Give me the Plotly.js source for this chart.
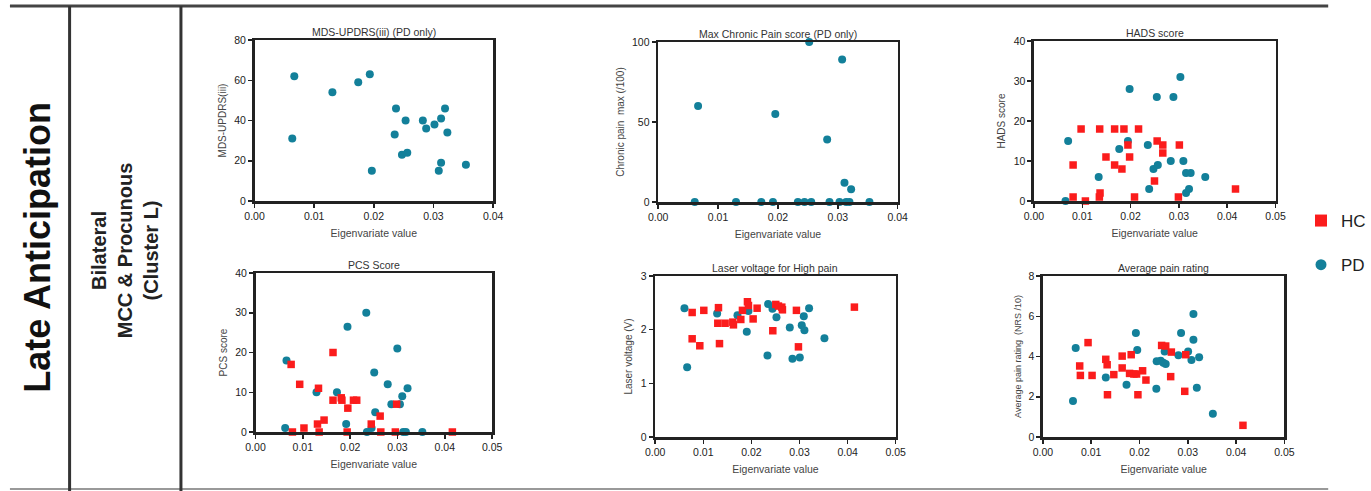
<!DOCTYPE html>
<html><head><meta charset="utf-8">
<script src="https://cdn.plot.ly/plotly-3.0.1.min.js"></script>
<style>html,body{margin:0;padding:0;background:#fff}#chart{width:1371px;height:491px}</style>
</head><body><div id="chart"></div>
<script>
// ---- Data (eigenvariate value vs measure) ----
// Panel 1: MDS-UPDRS(iii) (PD only)
const updrsPD_x = [0.00667,0.00633,0.01306,0.01739,0.01933,0.01967,0.02372,0.0235,0.02533,0.02472,0.02561,0.02822,0.02878,0.03017,0.03128,0.03194,0.03233,0.03128,0.03089,0.03544];
const updrsPD_y = [62,31,54,59,63,15,46,33,40,23,24,40,36,38,41,46,34,19,15,18];
// Panel 2: Max chronic pain (PD only)
const painMaxPD_x = [0.00667,0.00611,0.013,0.01722,0.01917,0.01956,0.02333,0.02444,0.02522,0.02556,0.02822,0.02861,0.03028,0.03072,0.03111,0.03139,0.03194,0.03222,0.03528];
const painMaxPD_y = [60,0,0,0,0,55,0,0,100,0,39,0,0,89,12,0,0,8,0];
// Panel 3: HADS score
const hadsPD_x = [0.00708,0.00653,0.0134,0.01766,0.01945,0.0198,0.02357,0.02385,0.02474,0.02564,0.02543,0.02832,0.02887,0.03031,0.03093,0.03148,0.03244,0.03148,0.0321,0.03546];
const hadsPD_y = [15,0,6,13,15,28,14,3,8,9,26,10,26,31,10,7,7,2,3,6];
const hadsHC_x = [0.00811,0.00811,0.00976,0.01065,0.01361,0.01368,0.01354,0.01491,0.0167,0.0167,0.01821,0.01863,0.01945,0.0198,0.02082,0.02165,0.02495,0.0255,0.02667,0.02667,0.0301,0.0299,0.04172];
const hadsHC_y = [9,1,18,0,18,2,1,11,18,9,8,18,14,11,1,18,5,15,14,12,14,1,3];
// Panel 4: PCS score
const pcsPD_x = [0.00655,0.00627,0.01289,0.01721,0.01916,0.01944,0.02341,0.02355,0.02453,0.02509,0.0253,0.02794,0.02871,0.02997,0.03052,0.03101,0.03213,0.03122,0.03178,0.03526];
const pcsPD_y = [18,1,10,10,2,26.5,30,0,1,15,5,12,7,21,7,9,11,0,0,0];
const pcsHC_x = [0.00753,0.0078,0.00934,0.01024,0.01331,0.0131,0.01345,0.01449,0.01638,0.01638,0.01812,0.01826,0.01951,0.01937,0.0207,0.02139,0.02446,0.02634,0.02648,0.02955,0.02983,0.0416];
const pcsHC_y = [17,0,12,1,11,2,0,3,20,8,8.6,8,6,0,8,8,2,4,0,0,7,0];
// Panel 5: Laser voltage for high pain
const laserPD_x = [0.00609,0.00665,0.01288,0.01711,0.01904,0.01939,0.02348,0.02334,0.02438,0.02521,0.02798,0.02853,0.03006,0.03047,0.03089,0.03102,0.03199,0.03518];
const laserPD_y = [2.40,1.30,2.30,2.27,1.96,2.35,2.48,1.52,2.39,2.23,2.04,1.46,1.48,2.08,2.25,1.99,2.40,1.84];
const laserHC_x = [0.00769,0.00769,0.00928,0.01011,0.01316,0.01302,0.01337,0.01454,0.01614,0.01627,0.0178,0.01814,0.01918,0.01939,0.02036,0.02119,0.02445,0.02507,0.02562,0.02632,0.02645,0.02936,0.02978,0.04141];
const laserHC_y = [2.32,1.83,1.70,2.36,2.41,2.12,1.74,2.12,2.14,2.09,2.19,2.36,2.52,2.45,2.20,2.40,1.98,2.47,2.44,2.42,2.37,2.36,1.68,2.42];
// Panel 6: Average pain rating (NRS /10)
const nrsPD_x = [0.00623,0.00679,0.01302,0.01731,0.01925,0.01953,0.02348,0.02355,0.02438,0.02493,0.02542,0.02521,0.02805,0.0286,0.03006,0.03075,0.03116,0.03116,0.03234,0.03186,0.03518];
const nrsPD_y = [1.79,4.42,2.96,2.60,5.17,4.32,2.40,3.76,3.79,3.69,3.63,4.25,4.06,5.17,4.25,3.82,6.11,4.83,3.96,2.45,1.16];
const nrsHC_x = [0.00762,0.00776,0.00935,0.01018,0.01302,0.0133,0.01337,0.01468,0.01641,0.01641,0.01828,0.01794,0.01884,0.01939,0.01967,0.02064,0.02133,0.02458,0.02542,0.02659,0.02645,0.02936,0.02957,0.04141];
const nrsHC_y = [3.53,3.06,4.69,3.06,3.86,3.59,2.10,3.10,4.02,3.43,4.09,3.16,3.13,3.13,2.10,3.29,2.83,4.55,4.52,4.22,3.00,2.27,4.09,0.58];

const panelTitles = ["MDS-UPDRS(iii) (PD only)","Max Chronic Pain score (PD only)","HADS score","PCS Score","Laser voltage for High pain","Average pain rating"];
const yTitles = ["MDS-UPDRS(iii)","Chronic pain  max (/100)","HADS score","PCS score","Laser voltage (V)","Average pain rating  (NRS /10)"];
const xTitle = "Eigenvariate value";
const groupNames = ["HC","PD"];
const rowLabel = "Late Anticipation";
const clusterLabel = "Bilateral<br>MCC & Procunous<br>(Cluster L)";

// ---- Styling / layout ----
const W = 1371, H = 491;
const RED = '#fb1c1c', TEAL = '#13809a';
const FONT = 'Liberation Sans, Arial, sans-serif';
const px = v => v / W, py = v => 1 - v / H;

// plot rectangles in pixels [left,right,top,bottom]
const boxes = [
  [256, 496, 40, 201],
  [662, 903, 42, 202],
  [1040, 1283, 41, 201],
  [257, 495, 273, 432],
  [659, 901, 276, 437],
  [1049, 1292, 276, 437]
];
const xRanges = [[0,0.04],[0,0.04],[0,0.05],[0,0.05],[0,0.05],[0,0.05]];
const yRanges = [[0,80],[0,100],[0,40],[0,40],[0,3],[0,8]];
const yDticks = [20,50,10,10,1,2];

const traces = [];
const axRef = i => (i === 0 ? '' : String(i+1));
function pd(x, y, i) {
  traces.push({x, y, type:'scatter', mode:'markers', name:groupNames[1], legendgroup:'PD', showlegend:false,
    xaxis:'x'+axRef(i), yaxis:'y'+axRef(i), cliponaxis:false,
    marker:{symbol:'circle', size:8, color:TEAL}});
}
function hc(x, y, i) {
  traces.push({x, y, type:'scatter', mode:'markers', name:groupNames[0], legendgroup:'HC', showlegend:false,
    xaxis:'x'+axRef(i), yaxis:'y'+axRef(i), cliponaxis:false,
    marker:{symbol:'square', size:7.5, color:RED}});
}
pd(updrsPD_x, updrsPD_y, 0);
pd(painMaxPD_x, painMaxPD_y, 1);
pd(hadsPD_x, hadsPD_y, 2); hc(hadsHC_x, hadsHC_y, 2);
pd(pcsPD_x, pcsPD_y, 3); hc(pcsHC_x, pcsHC_y, 3);
pd(laserPD_x, laserPD_y, 4); hc(laserHC_x, laserHC_y, 4);
pd(nrsPD_x, nrsPD_y, 5); hc(nrsHC_x, nrsHC_y, 5);
// legend-only entries (larger symbols, like the reference key)
traces.push({x:[null], y:[null], type:'scatter', mode:'markers', name:groupNames[0], legendgroup:'HC',
  xaxis:'x3', yaxis:'y3', marker:{symbol:'square', size:12, color:RED}});
traces.push({x:[null], y:[null], type:'scatter', mode:'markers', name:groupNames[1], legendgroup:'PD',
  xaxis:'x3', yaxis:'y3', marker:{symbol:'circle', size:11, color:TEAL}});

const layout = {
  width: W, height: H, margin:{l:0,r:0,t:0,b:0},
  paper_bgcolor:'#fff', plot_bgcolor:'#fff',
  font:{family:FONT, color:'#333'},
  showlegend:true,
  legend:{x:px(1309), y:py(203), xanchor:'left', yanchor:'top', font:{size:17, color:'#222', family:FONT},
    tracegroupgap:19, bgcolor:'rgba(0,0,0,0)', itemwidth:30, traceorder:'grouped'},
  annotations:[], shapes:[]
};

boxes.forEach((b, i) => {
  const s = axRef(i);
  const ax = {
    showline:true, linecolor:'#222', linewidth:2.5, mirror:true,
    ticks:'outside', ticklen:4, tickwidth:1.5, tickcolor:'#222',
    showgrid:false, zeroline:false, automargin:false,
    tickfont:{family:FONT, size:10.5, color:'#222'}
  };
  layout['xaxis'+s] = Object.assign({}, ax, {
    domain:[px(b[0]), px(b[1])], range:xRanges[i], dtick:0.01, tick0:0, tickformat:'.2f',
    anchor:'y'+s,
    title:{text:xTitle, font:{size:10.5, color:'#444', family:FONT}, standoff:9}
  });
  layout['yaxis'+s] = Object.assign({}, ax, {
    domain:[py(b[3]), py(b[2])], range:yRanges[i], dtick:yDticks[i], tick0:0,
    anchor:'x'+s,
    title:{text:yTitles[i], font:{size: i===5 ? 9 : 10, color:'#444', family:FONT}, standoff:6}
  });
  layout.annotations.push({
    text:panelTitles[i], xref:'paper', yref:'paper',
    x:px((b[0]+b[1])/2), y:py(b[2]), xanchor:'center', yanchor:'bottom', yshift:0,
    showarrow:false, font:{size:10.5, color:'#333', family:FONT}
  });
});

// Row / cluster labels
layout.annotations.push({
  text:'<b>'+rowLabel+'</b>', xref:'paper', yref:'paper', x:px(37), y:py(247),
  xanchor:'center', yanchor:'middle', textangle:-90, showarrow:false,
  font:{size:36, color:'#111', family:FONT}
});
layout.annotations.push({
  text:'<b>'+clusterLabel+'</b>', xref:'paper', yref:'paper', x:px(126), y:py(250),
  xanchor:'center', yanchor:'middle', textangle:-90, showarrow:false,
  font:{size:20, color:'#222', family:FONT}
});

// Table frame lines
const line = (x0,y0,x1,y1,w,c) => ({type:'line', xref:'paper', yref:'paper',
  x0:px(x0), y0:py(y0), x1:px(x1), y1:py(y1), line:{color:c||'#333', width:w}});
layout.shapes.push(line(10, 6, 1336, 6, 3, '#444'));
layout.shapes.push(line(10, 489, 1336, 489, 1.5, '#777'));
layout.shapes.push(line(70, 6, 70, 491, 3, '#333'));
layout.shapes.push(line(182, 6, 182, 491, 3, '#333'));

Plotly.newPlot('chart', traces, layout, {staticPlot:true, displayModeBar:false});
</script>
</body></html>
